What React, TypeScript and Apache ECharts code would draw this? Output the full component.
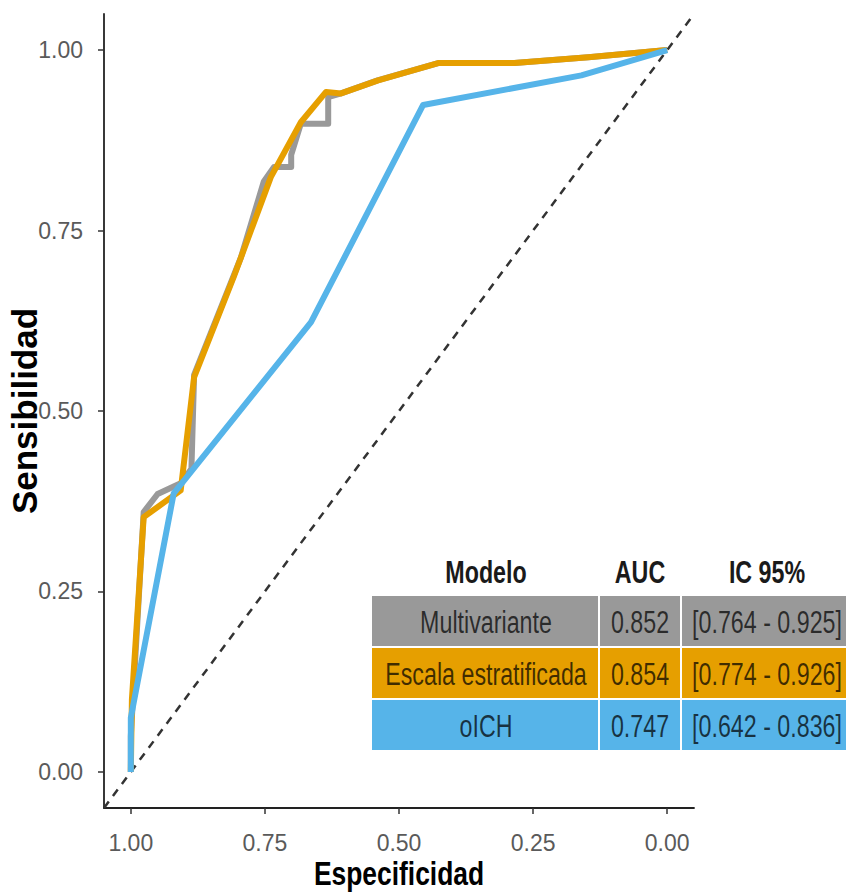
import React, { useEffect, useRef } from "react";
import * as echarts from "echarts";

// ROC curves: specificity (reversed axis) vs sensitivity
const multiSpec = [1, 1, 0.976, 0.95, 0.907, 0.887, 0.882, 0.795, 0.752, 0.733, 0.701, 0.701, 0.683, 0.632, 0.632, 0.608, 0.54, 0.427, 0.285, 0.147, 0];
const multiSens = [0, 0.05, 0.36, 0.385, 0.4, 0.42, 0.55, 0.712, 0.818, 0.838, 0.838, 0.855, 0.898, 0.898, 0.935, 0.94, 0.958, 0.982, 0.982, 0.99, 1];

const escalaSpec = [1, 0.998, 0.976, 0.907, 0.882, 0.808, 0.739, 0.683, 0.636, 0.608, 0.539, 0.427, 0.285, 0.147, 0];
const escalaSens = [0, 0.1, 0.353, 0.39, 0.547, 0.686, 0.824, 0.9, 0.942, 0.94, 0.958, 0.982, 0.982, 0.99, 1];

const oichSpec = [1, 1, 0.92, 0.664, 0.455, 0.16, 0];
const oichSens = [0, 0.075, 0.386, 0.623, 0.924, 0.965, 1];

const tickValues = [0, 0.25, 0.5, 0.75, 1];

// Summary table
const tableHeader = ["Modelo", "AUC", "IC 95%"];
const modelNames = ["Multivariante", "Escala estratificada", "oICH"];
const aucValues = ["0.852", "0.854", "0.747"];
const ciValues = ["[0.764 - 0.925]", "[0.774 - 0.926]", "[0.642 - 0.836]"];
const modelColors = ["#999999", "#E69F00", "#56B4E9"];

const SANS = "'Liberation Sans', Arial, sans-serif";

const pairs = (xs: number[], ys: number[]) => xs.map((x, i) => [x, ys[i]]);

export default function App() {
  const ref = useRef<HTMLDivElement>(null);

  useEffect(() => {
    if (!ref.current) return;
    const chart = echarts.init(ref.current, undefined, { renderer: "svg" });

    const colX = [372, 600, 682];
    const colW = [226, 80, 170];
    const textCx = [486, 640, 767];
    const rowY = [596, 648, 700];
    const rowH = 50;
    const squeeze = 0.75;

    const graphics: any[] = [];
    tableHeader.forEach((h, i) => {
      graphics.push({
        type: "text",
        x: textCx[i],
        y: 572,
        scaleX: squeeze,
        style: {
          text: h,
          font: `bold 31px ${SANS}`,
          fill: "#1a1a1a",
          align: "center",
          verticalAlign: "middle",
        },
      });
    });
    modelNames.forEach((name, r) => {
      const cells = [name, aucValues[r], ciValues[r]];
      cells.forEach((txt, c) => {
        graphics.push({
          type: "rect",
          shape: { x: colX[c], y: rowY[r], width: colW[c], height: rowH },
          style: { fill: modelColors[r] },
        });
        graphics.push({
          type: "text",
          x: textCx[c],
          y: rowY[r] + rowH / 2 + 1,
          scaleX: squeeze,
          style: {
            text: txt,
            font: `31px ${SANS}`,
            fill: "rgba(0,0,0,0.72)",
            align: "center",
            verticalAlign: "middle",
          },
        });
      });
    });
    // axis title below the specificity axis
    graphics.push({
      type: "text",
      x: 399,
      y: 873,
      scaleX: 0.8,
      style: {
        text: "Especificidad",
        font: `bold 33px ${SANS}`,
        fill: "#000",
        align: "center",
        verticalAlign: "middle",
      },
    });

    const curve = (name: string, data: number[][], color: string) => ({
      type: "line",
      name,
      data,
      symbol: "none",
      lineStyle: { color, width: 6, join: "round" },
      itemStyle: { color },
      z: 3,
    });

    chart.setOption({
      animation: false,
      grid: { left: 104, right: 152, top: 14, bottom: 85, outerBoundsMode: "none" },
      xAxis: {
        type: "value",
        inverse: true,
        min: -0.05,
        max: 1.05,
        splitLine: { show: false },
        axisLine: { show: true, onZero: false, lineStyle: { color: "#222", width: 1.8 } },
        axisTick: { show: true, length: 6, customValues: tickValues, lineStyle: { color: "#333", width: 1.5 } },
        axisLabel: {
          customValues: tickValues,
          formatter: (v: number) => v.toFixed(2),
          fontFamily: SANS,
          fontSize: 23,
          color: "#5a5a5a",
          margin: 23,
        },
      },
      yAxis: {
        type: "value",
        min: -0.05,
        max: 1.05,
        name: "Sensibilidad",
        nameLocation: "middle",
        nameGap: 62,
        nameRotate: 90,
        nameMoveOverlap: false,
        nameTextStyle: { fontFamily: SANS, fontWeight: "bold", fontSize: 35, color: "#000" },
        splitLine: { show: false },
        axisLine: { show: true, onZero: false, lineStyle: { color: "#222", width: 1.8 } },
        axisTick: { show: true, length: 6, customValues: tickValues, lineStyle: { color: "#333", width: 1.5 } },
        axisLabel: {
          customValues: tickValues,
          formatter: (v: number) => v.toFixed(2),
          fontFamily: SANS,
          fontSize: 23,
          color: "#5a5a5a",
          margin: 21,
        },
      },
      series: [
        {
          type: "line",
          name: "Referencia",
          data: [[1.05, -0.05], [-0.05, 1.05]],
          symbol: "none",
          lineStyle: { color: "#333", width: 2.5, type: [8, 7] },
          z: 2,
        },
        curve("Multivariante", pairs(multiSpec, multiSens), modelColors[0]),
        curve("Escala estratificada", pairs(escalaSpec, escalaSens), modelColors[1]),
        curve("oICH", pairs(oichSpec, oichSens), modelColors[2]),
      ],
      graphic: graphics,
    });

    return () => chart.dispose();
  }, []);

  return (
    <div
      ref={ref}
      style={{ position: "fixed", left: 0, top: 0, width: 846, height: 893, background: "#fff" }}
    />
  );
}
